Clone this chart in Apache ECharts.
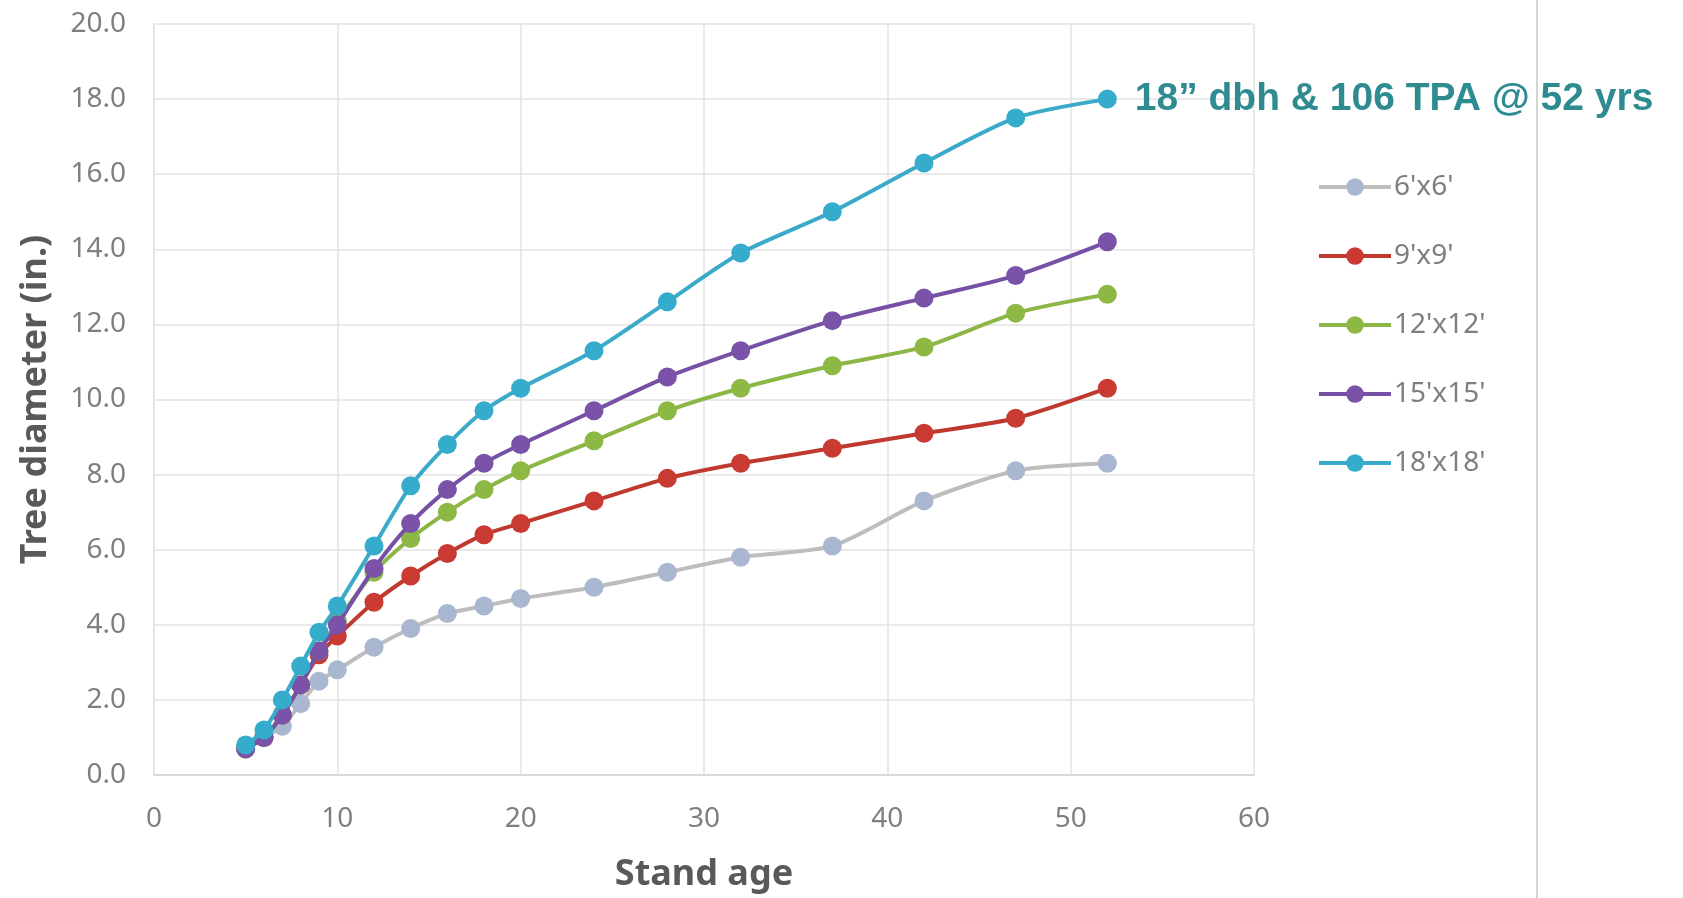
<!DOCTYPE html>
<html>
<head>
<meta charset="utf-8">
<script src="https://cdn.jsdelivr.net/npm/echarts@6/dist/echarts.min.js"></script>
<style>html,body{margin:0;padding:0;background:#fff;}#c{width:1683px;height:898px;}</style>
</head>
<body>
<div id="c"></div>
<script>
const ages = [5, 6, 7, 8, 9, 10, 12, 14, 16, 18, 20, 24, 28, 32, 37, 42, 47, 52];
const s6x6   = [0.7, 1.0, 1.3, 1.9, 2.5, 2.8, 3.4, 3.9, 4.3, 4.5, 4.7, 5.0, 5.4, 5.8, 6.1, 7.3, 8.1, 8.3];
const s9x9   = [0.7, 1.0, 1.6, 2.4, 3.2, 3.7, 4.6, 5.3, 5.9, 6.4, 6.7, 7.3, 7.9, 8.3, 8.7, 9.1, 9.5, 10.3];
const s12x12 = [0.7, 1.0, 1.6, 2.4, 3.3, 4.1, 5.4, 6.3, 7.0, 7.6, 8.1, 8.9, 9.7, 10.3, 10.9, 11.4, 12.3, 12.8];
const s15x15 = [0.7, 1.0, 1.6, 2.4, 3.3, 4.0, 5.5, 6.7, 7.6, 8.3, 8.8, 9.7, 10.6, 11.3, 12.1, 12.7, 13.3, 14.2];
const s18x18 = [0.8, 1.2, 2.0, 2.9, 3.8, 4.5, 6.1, 7.7, 8.8, 9.7, 10.3, 11.3, 12.6, 13.9, 15.0, 16.3, 17.5, 18.0];
const seriesNames = ["6'x6'", "9'x9'", "12'x12'", "15'x15'", "18'x18'"];
const annotation = '18\u201D dbh & 106 TPA @ 52 yrs';

const lineColors   = ['#BDBDBD', '#C0392F', '#8CB645', '#7650A4', '#3BAAC8'];
const markerColors = ['#A9B8D0', '#C83A32', '#8DB843', '#7A52A8', '#35ACCB'];
const allData = [s6x6, s9x9, s12x12, s15x15, s18x18];

const font = '"Noto Sans", sans-serif';

const series = allData.map((vals, i) => {
  const data = vals.map((v, j) => {
    const item = { value: [ages[j], v] };
    if (i === 4 && j === vals.length - 1) {
      item.label = {
        show: true, position: 'right', distance: 18,
        formatter: annotation,
        color: '#2E8C90', fontFamily: '"Liberation Sans", Arial, sans-serif',
        fontWeight: 'bold', fontSize: 39
      };
    }
    return item;
  });
  return {
    name: seriesNames[i], type: 'line', data,
    smooth: 0.25, symbol: 'circle', symbolSize: 19,
    lineStyle: { color: lineColors[i], width: 4 },
    itemStyle: { color: markerColors[i] },
    emphasis: { disabled: true },
    z: 2 + i
  };
});

const chart = echarts.init(document.getElementById('c'), null, { renderer: 'canvas' });
chart.setOption({
  animation: false,
  backgroundColor: '#fff',
  grid: { left: 154, right: 429, top: 24, bottom: 123, containLabel: false },
  legend: {
    orient: 'vertical', left: 1312, top: 168, itemGap: 41,
    itemWidth: 72, itemHeight: 22,
    data: seriesNames,
    lineStyle: { width: 4 },
    textStyle: { color: '#7f7f7f', fontSize: 28, fontFamily: font, padding: [0, 0, 0, -2] }
  },
  xAxis: {
    type: 'value', min: 0, max: 60, interval: 10,
    name: 'Stand age', nameLocation: 'middle', nameGap: 82,
    nameTextStyle: { color: '#595959', fontSize: 36, fontWeight: 'bold', fontFamily: font },
    axisLine: { show: true, lineStyle: { color: '#D9D9D9', width: 2 } },
    axisTick: { show: false },
    axisLabel: { color: '#7f7f7f', fontSize: 28, fontFamily: font, margin: 30 },
    splitLine: { show: true, lineStyle: { color: '#E3E3E3', width: 1.5 } }
  },
  yAxis: {
    type: 'value', min: 0, max: 20, interval: 2,
    name: 'Tree diameter (in.)', nameLocation: 'middle', nameGap: 100, nameRotate: 90,
    nameTextStyle: { color: '#595959', fontSize: 36, fontWeight: 'bold', fontFamily: font },
    axisLine: { show: true, lineStyle: { color: '#E3E3E3', width: 1.5 } },
    axisTick: { show: false },
    axisLabel: { color: '#7f7f7f', fontSize: 28, fontFamily: font, margin: 28,
      formatter: v => v.toFixed(1) },
    splitLine: { show: true, lineStyle: { color: '#E3E3E3', width: 1.5 } }
  },
  graphic: [{
    type: 'line', z: 0,
    shape: { x1: 1537, y1: 0, x2: 1537, y2: 898 },
    style: { stroke: '#D4D4D4', lineWidth: 2 }
  }],
  series
});
</script>
</body>
</html>
